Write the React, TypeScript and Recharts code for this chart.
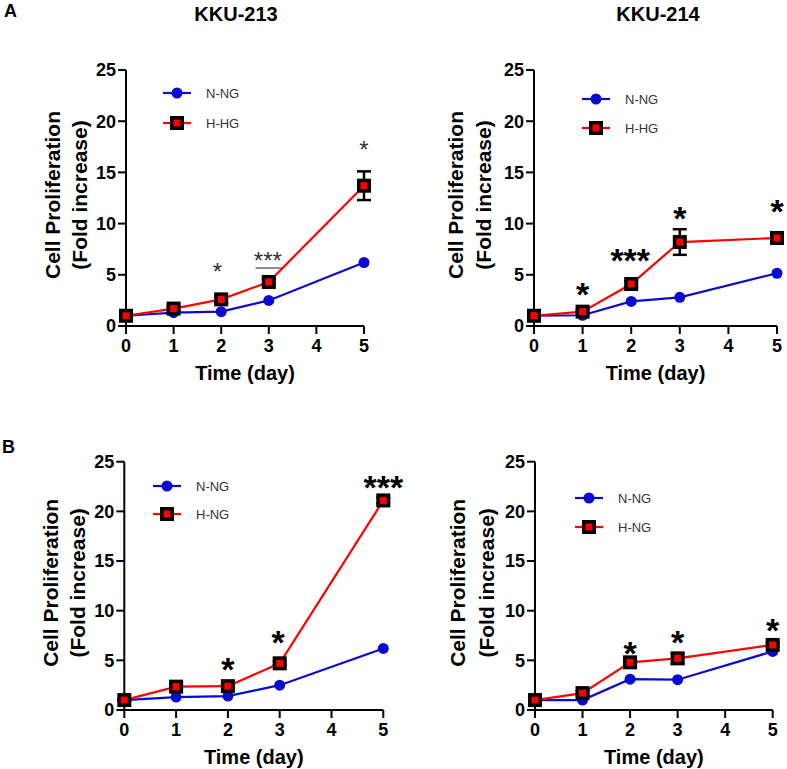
import React from "react";
import { LineChart, Line, XAxis, YAxis, ErrorBar, ReferenceDot, ReferenceLine } from "recharts";

// ---------- data ----------
const days = [0, 1, 2, 3, 5];
const xTicks = [0, 1, 2, 3, 4, 5];
const yTicks = [0, 5, 10, 15, 20, 25];

const titles = ["KKU-213", "KKU-214"];
const panelLetters = ["A", "B"];
const seriesN = "N-NG";
const seriesHA = "H-HG";
const seriesHB = "H-NG";

// Panel A, KKU-213
const a213N = [1.0, 1.3, 1.4, 2.5, 6.2];
const a213H = [1.0, 1.7, 2.6, 4.3, 13.7];
const a213Err = [0.1, 0.2, 0.3, 0.3, 1.4];
const a213Stars = [
  { x: 1.92, y: 5.8, t: "*" },
  { x: 2.98, y: 6.9, t: "***" },
  { x: 5, y: 17.7, t: "*" },
];

// Panel A, KKU-214
const a214N = [1.0, 1.05, 2.4, 2.8, 5.15];
const a214H = [1.0, 1.4, 4.1, 8.2, 8.6];
const a214Err = [0.1, 0.2, 0.3, 1.25, 0.55];
const a214Stars = [
  { x: 1, y: 3.8, t: "*" },
  { x: 1.98, y: 7.2, t: "***" },
  { x: 3, y: 11.3, t: "*" },
  { x: 5, y: 12.0, t: "*" },
];

// Panel B, KKU-213
const b213N = [1.0, 1.3, 1.4, 2.5, 6.2];
const b213H = [1.0, 2.35, 2.4, 4.7, 21.1];
const b213Err = [0.1, 0.2, 0.2, 0.2, 0.3];
const b213Stars = [
  { x: 2, y: 4.86, t: "*" },
  { x: 2.97, y: 7.55, t: "*" },
  { x: 5, y: 23.2, t: "***" },
];

// Panel B, KKU-214
const b214N = [1.0, 1.0, 3.1, 3.05, 5.9];
const b214H = [1.0, 1.7, 4.8, 5.2, 6.55];
const b214Err = [0.1, 0.2, 0.2, 0.5, 0.2];
const b214Stars = [
  { x: 2, y: 6.5, t: "*" },
  { x: 3, y: 7.55, t: "*" },
  { x: 5, y: 8.8, t: "*" },
];

const makeRows = (n: number[], h: number[], err: number[]) =>
  days.map((d, i) => ({ day: d, n: n[i], h: h[i], err: err[i] }));

// ---------- styles ----------
const BLUE = "#0a0ad0";
const RED = "#ff0000";
const FONT = "'Liberation Sans', Arial, sans-serif";

const CircleDot = (props: any) => {
  const { cx, cy, index } = props;
  if (cx == null || cy == null) return <g key={`c${index}`} />;
  return <circle key={`c${index}`} cx={cx} cy={cy} r={5.5} fill={BLUE} stroke="none" />;
};

const SquareDot = (props: any) => {
  const { cx, cy, index } = props;
  if (cx == null || cy == null) return <g key={`s${index}`} />;
  return (
    <g key={`s${index}`}>
      <rect x={cx - 7} y={cy - 7} width={14} height={14} fill="#000" />
      <rect x={cx - 3.5} y={cy - 3.5} width={7} height={7} fill={RED} />
    </g>
  );
};

type Star = { x: number; y: number; t: string };

type PanelProps = {
  left: number;
  top: number;
  width: number;
  height: number;
  margin: { top: number; right: number; bottom: number; left: number };
  yAxisWidth: number;
  rows: any[];
  stars: Star[];
  small?: boolean;
  bracket?: { x1: number; x2: number; y: number };
  yLabelX: [number, number];
};

function Panel(p: PanelProps) {
  const starSize = p.small ? 24 : 34;
  const starWeight = p.small ? "normal" : "bold";
  const starColor = p.small ? "#333" : "#000";
  return (
    <div style={{ position: "absolute", left: p.left, top: p.top }}>
      <LineChart width={p.width} height={p.height} data={p.rows} margin={p.margin}>
        <XAxis
          dataKey="day"
          type="number"
          domain={[0, 5]}
          ticks={xTicks}
          interval={0}
          height={50}
          stroke="#000"
          strokeWidth={2}
          tickSize={8}
          tickMargin={5}
          tick={{ fill: "#000", fontSize: 18, fontWeight: "bold", fontFamily: FONT }}
          tickLine={{ stroke: "#000", strokeWidth: 2 }}
          label={{
            content: (lp: any) => {
              const vb = lp.viewBox || {};
              return (
                <text
                  x={vb.x + vb.width / 2}
                  y={vb.y + 47}
                  textAnchor="middle"
                  dominantBaseline="central"
                  fontSize={20}
                  fontWeight="bold"
                  fontFamily={FONT}
                  fill="#000"
                >
                  Time (day)
                </text>
              );
            },
          }}
        />
        <YAxis
          type="number"
          domain={[0, 25]}
          ticks={yTicks}
          interval={0}
          width={p.yAxisWidth}
          stroke="#000"
          strokeWidth={2}
          tickSize={8}
          tickMargin={2}
          tick={{ fill: "#000", fontSize: 18, fontWeight: "bold", fontFamily: FONT }}
          tickLine={{ stroke: "#000", strokeWidth: 2 }}
          label={{
            content: (lp: any) => {
              const vb = lp.viewBox || {};
              const cy = vb.y + vb.height / 2 - 3;
              return (
                <g>
                  <text
                    x={p.yLabelX[0]}
                    y={cy}
                    transform={`rotate(-90 ${p.yLabelX[0]} ${cy})`}
                    textAnchor="middle"
                    dominantBaseline="central"
                    fontSize={21}
                    fontWeight="bold"
                    fontFamily={FONT}
                    fill="#000"
                  >
                    Cell Proliferation
                  </text>
                  <text
                    x={p.yLabelX[1]}
                    y={cy}
                    transform={`rotate(-90 ${p.yLabelX[1]} ${cy})`}
                    textAnchor="middle"
                    dominantBaseline="central"
                    fontSize={21}
                    fontWeight="bold"
                    fontFamily={FONT}
                    fill="#000"
                  >
                    (Fold increase)
                  </text>
                </g>
              );
            },
          }}
        />
        <Line
          dataKey="n"
          stroke={BLUE}
          strokeWidth={2.2}
          dot={CircleDot}
          activeDot={false}
          isAnimationActive={false}
        />
        <Line
          dataKey="h"
          stroke={RED}
          strokeWidth={2.2}
          dot={SquareDot}
          activeDot={false}
          isAnimationActive={false}
        >
          <ErrorBar dataKey="err" width={7} strokeWidth={2.5} stroke="#000" direction="y" />
        </Line>
        {p.bracket && (
          <ReferenceLine
            segment={[
              { x: p.bracket.x1, y: p.bracket.y },
              { x: p.bracket.x2, y: p.bracket.y },
            ]}
            stroke="#444"
            strokeWidth={1.2}
            ifOverflow="visible"
          />
        )}
        {p.stars.map((s, i) => (
          <ReferenceDot
            key={`star${i}`}
            x={s.x}
            y={s.y}
            r={0}
            ifOverflow="visible"
            shape={(sp: any) => (
              <text
                x={sp.cx}
                y={sp.cy + starSize * 0.57}
                textAnchor="middle"
                fontSize={starSize}
                fontWeight={starWeight}
                fontFamily={FONT}
                fill={starColor}
              >
                {s.t}
              </text>
            )}
          />
        ))}
      </LineChart>
    </div>
  );
}

function LegendBlock({ x, y1, y2, hName }: { x: number; y1: number; y2: number; hName: string }) {
  return (
    <g>
      <line x1={x} y1={y1} x2={x + 28} y2={y1} stroke={BLUE} strokeWidth={2.2} />
      <circle cx={x + 14} cy={y1} r={5.5} fill={BLUE} />
      <text x={x + 43} y={y1} dominantBaseline="central" fontSize={13} fontFamily={FONT} fill="#333">
        {seriesN}
      </text>
      <line x1={x} y1={y2} x2={x + 28} y2={y2} stroke={RED} strokeWidth={2.2} />
      <rect x={x + 14 - 7} y={y2 - 7} width={14} height={14} fill="#000" />
      <rect x={x + 14 - 3.5} y={y2 - 3.5} width={7} height={7} fill={RED} />
      <text x={x + 43} y={y2} dominantBaseline="central" fontSize={13} fontFamily={FONT} fill="#333">
        {hName}
      </text>
    </g>
  );
}

export default function App() {
  return (
    <div
      style={{
        position: "absolute",
        left: 0,
        top: 0,
        width: 787,
        height: 769,
        background: "#fff",
        overflow: "hidden",
        fontFamily: FONT,
      }}
    >
      <Panel
        left={0}
        top={0}
        width={400}
        height={390}
        margin={{ top: 70, right: 36, bottom: 14, left: 66 }}
        yAxisWidth={60}
        rows={makeRows(a213N, a213H, a213Err)}
        stars={a213Stars}
        small
        bracket={{ x1: 2.72, x2: 3.28, y: 5.66 }}
        yLabelX={[52, 79]}
      />
      <Panel
        left={400}
        top={0}
        width={387}
        height={390}
        margin={{ top: 70, right: 10, bottom: 14, left: 74 }}
        yAxisWidth={60}
        rows={makeRows(a214N, a214H, a214Err)}
        stars={a214Stars}
        yLabelX={[55, 83]}
      />
      <Panel
        left={0}
        top={390}
        width={420}
        height={379}
        margin={{ top: 71.7, right: 36.7, bottom: 9, left: 64.3 }}
        yAxisWidth={60}
        rows={makeRows(b213N, b213H, b213Err)}
        stars={b213Stars}
        yLabelX={[51, 78]}
      />
      <Panel
        left={400}
        top={390}
        width={387}
        height={379}
        margin={{ top: 71.7, right: 14.3, bottom: 9, left: 75 }}
        yAxisWidth={60}
        rows={makeRows(b214N, b214H, b214Err)}
        stars={b214Stars}
        yLabelX={[58, 87]}
      />
      <svg
        width={787}
        height={769}
        style={{ position: "absolute", left: 0, top: 0, pointerEvents: "none" }}
      >
        <text x={4} y={17} fontSize={18} fontWeight="bold" fontFamily={FONT} fill="#000">
          {panelLetters[0]}
        </text>
        <text x={2} y={453} fontSize={18} fontWeight="bold" fontFamily={FONT} fill="#000">
          {panelLetters[1]}
        </text>
        <text x={236} y={21} textAnchor="middle" fontSize={20} fontWeight="bold" fontFamily={FONT} fill="#000">
          {titles[0]}
        </text>
        <text x={658} y={21} textAnchor="middle" fontSize={20} fontWeight="bold" fontFamily={FONT} fill="#000">
          {titles[1]}
        </text>
        <LegendBlock x={163} y1={93} y2={123} hName={seriesHA} />
        <LegendBlock x={582} y1={99} y2={128} hName={seriesHA} />
        <LegendBlock x={153} y1={486} y2={514} hName={seriesHB} />
        <LegendBlock x={575} y1={498} y2={527} hName={seriesHB} />
      </svg>
    </div>
  );
}
